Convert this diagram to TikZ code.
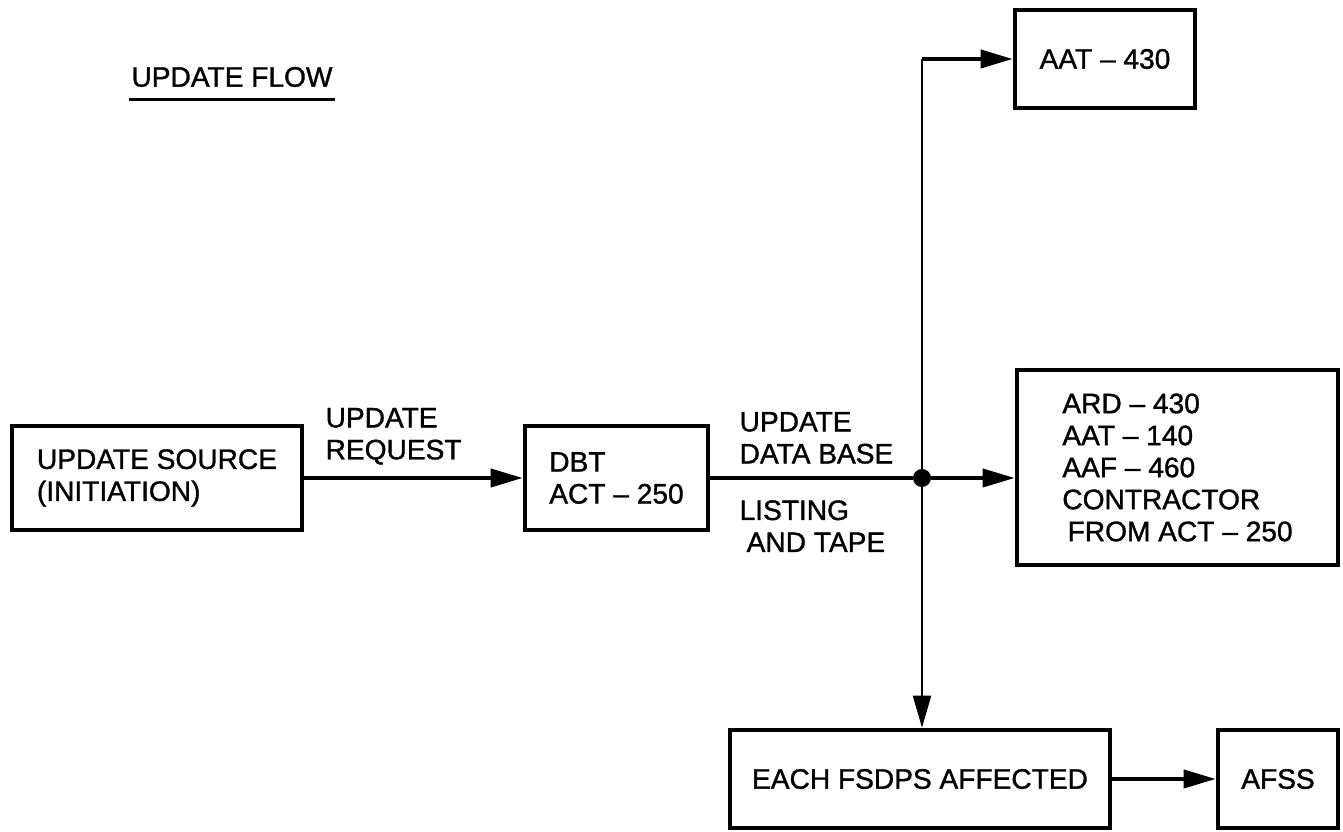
\documentclass[tikz,border=0pt]{standalone}
\usepackage{fontspec}
\setmainfont{Liberation Sans}[FakeBold=1.2]
\usetikzlibrary{arrows.meta, positioning, calc}
\newcommand{\updfont}{\fontsize{16}{18.2}\selectfont}

\begin{document}
\begin{tikzpicture}[>={Triangle[length=6.4mm, width=3.6mm]},
  box/.style={draw, line width=2.6pt, align=left, inner sep=0pt, font=\updfont},
  lbl/.style={align=left, inner sep=0pt, font=\updfont},
  flow/.style={->, line width=2.2pt},
  thinflow/.style={line width=1.3pt}]

% Page
\fill[white] (0,0) rectangle (26.86,16.64);
\useasboundingbox (0,0) rectangle (26.86,16.64);

% Title
\node[lbl] (title) at (4.64,15.1) {UPDATE FLOW};
\draw[line width=1.8pt] ($(title.south west)+(-0.05,-0.24)$) -- ($(title.south east)+(0.05,-0.24)$);

% Boxes
\node[box, minimum width=5.8cm, minimum height=2.08cm] (src) at (3.14,7.08)
      {UPDATE SOURCE\\(INITIATION)};
\node[box, minimum width=3.66cm, minimum height=2.08cm] (dbt) at (12.33,7.08)
      {DBT\\ACT -- 250};
\node[box, minimum width=6.42cm, minimum height=3.9cm] (dist) at (23.55,7.29)
      {ARD -- 430\\AAT -- 140\\AAF -- 460\\CONTRACTOR\\\hspace*{3pt}FROM ACT -- 250};
\node[box, minimum width=3.6cm, minimum height=1.96cm] (aat) at (22.1,15.46) {AAT -- 430};
\node[box, minimum width=7.6cm, minimum height=1.96cm] (each) at (18.4,1.06) {EACH FSDPS AFFECTED};
\node[box, minimum width=2.4cm, minimum height=1.96cm] (afss) at (25.56,1.06) {AFSS};

% Junction
\node[circle, fill, inner sep=0pt, minimum size=0.36cm] (junc) at (18.44,7.08) {};
\coordinate (bend) at (junc |- aat.west);

% Connectors
\draw[flow] (src) -- (dbt);
\draw[line width=2.2pt] (dbt) -- (junc);
\draw[flow] (junc) -- (junc -| dist.west);
\draw[thinflow, ->] (junc) -- (junc |- each.north);
\draw[thinflow] (junc) -- (bend);
\draw[flow] (bend) -- (aat.west);
\draw[flow] (each) -- (afss);

% Labels
\node[lbl, above right=0.26cm and 0.42cm of src.east] (reqlbl) {UPDATE\\REQUEST};
\node[lbl, above right=0.28cm and 0.58cm of dbt.east] (dblbl) {UPDATE\\DATA BASE};
\node[lbl, below right=0.44cm and 0.58cm of dbt.east] (lstlbl) {LISTING\\\hspace*{4pt}AND TAPE};

\end{tikzpicture}
\end{document}
